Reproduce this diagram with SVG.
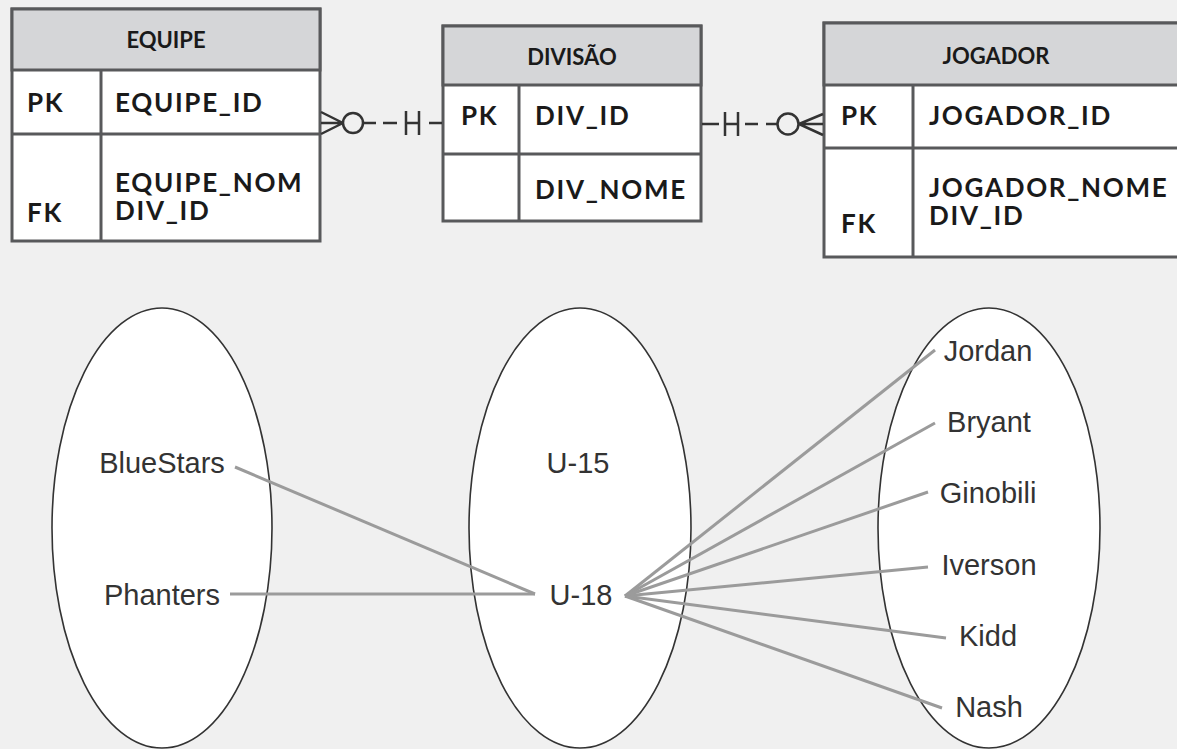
<svg xmlns="http://www.w3.org/2000/svg" width="1177" height="749" viewBox="0 0 1177 749">
<style>
.bg{fill:#f0f0f0}
.box{fill:#ffffff;stroke:#58595b;stroke-width:3}
.hdr{fill:#d5d6d8;stroke:#58595b;stroke-width:3}
.div{stroke:#58595b;stroke-width:3;fill:none}
.th{font-family:Lato,"Open Sans",sans-serif;font-weight:bold;font-size:22px;fill:#1a1a1a;text-anchor:middle}
.tb{font-family:Lato,"Open Sans",sans-serif;font-weight:bold;font-size:26px;fill:#1a1a1a;letter-spacing:1.7px}
.conn{stroke:#333333;stroke-width:2.5;fill:none}
.ell{fill:#ffffff;stroke:#333333;stroke-width:1.6}
.lbl{font-family:"Liberation Sans",Arial,sans-serif;font-size:29px;fill:#333333;text-anchor:middle}
.lnk{stroke:#9b9b9b;stroke-width:3;fill:none}
</style>
<rect class="bg" x="0" y="0" width="1177" height="749"/>

<g id="equipe">
<rect class="box" x="12" y="9" width="308" height="232"/>
<rect class="hdr" x="12" y="9" width="308" height="61"/>
<line class="div" x1="12" y1="134" x2="320" y2="134"/>
<line class="div" x1="101" y1="70" x2="101" y2="241"/>
<text class="th" x="166" y="48">EQUIPE</text>
<text class="tb" x="27" y="112">PK</text>
<text class="tb" x="115" y="112">EQUIPE_ID</text>
<text class="tb" x="115" y="192">EQUIPE_NOM</text>
<text class="tb" x="115" y="220">DIV_ID</text>
<text class="tb" x="27" y="222">FK</text>
</g>

<g id="divisao">
<rect class="box" x="443" y="26" width="258" height="195"/>
<rect class="hdr" x="443" y="26" width="258" height="59"/>
<line class="div" x1="443" y1="154" x2="701" y2="154"/>
<line class="div" x1="519" y1="85" x2="519" y2="221"/>
<text class="th" x="572" y="65">DIVISÃO</text>
<text class="tb" x="461" y="125">PK</text>
<text class="tb" x="535" y="125">DIV_ID</text>
<text class="tb" x="535" y="199">DIV_NOME</text>
</g>

<g id="jogador">
<rect class="box" x="824" y="23" width="380" height="234"/>
<rect class="hdr" x="824" y="23" width="380" height="62"/>
<line class="div" x1="824" y1="148" x2="1204" y2="148"/>
<line class="div" x1="913" y1="85" x2="913" y2="257"/>
<text class="th" x="996" y="64">JOGADOR</text>
<text class="tb" x="841" y="125">PK</text>
<text class="tb" x="929" y="125">JOGADOR_ID</text>
<text class="tb" x="929" y="197">JOGADOR_NOME</text>
<text class="tb" x="929" y="225">DIV_ID</text>
<text class="tb" x="841" y="233">FK</text>
</g>

<g id="er-connectors">
<path class="conn" d="M321,112 L343,123 M321,123 L343,123 M321,134 L343,123"/>
<circle class="conn" cx="353" cy="123" r="10"/>
<path class="conn" d="M363,123 H376 M383,123 H397 M406,111 V135 M419,111 V135 M406,123 H419 M429,123 H442"/>
<path class="conn" d="M702,124 H719 M725,112 V136 M738,112 V136 M725,124 H738 M745,124 H758 M766,124 H777"/>
<circle class="conn" cx="788" cy="124" r="10.5"/>
<path class="conn" d="M823,114 L799,124 M823,124 L799,124 M823,135 L799,124"/>
</g>

<g id="teams">
<ellipse class="ell" cx="162" cy="528" rx="110" ry="220"/>
<text class="lbl" x="162" y="473">BlueStars</text>
<text class="lbl" x="162" y="605">Phanters</text>
</g>

<g id="divisions">
<ellipse class="ell" cx="580" cy="528" rx="111" ry="220"/>
<text class="lbl" x="578" y="473">U-15</text>
<text class="lbl" x="581" y="605">U-18</text>
</g>

<g id="players">
<ellipse class="ell" cx="989" cy="528" rx="111" ry="220"/>
<text class="lbl" x="988" y="361">Jordan</text>
<text class="lbl" x="989" y="432">Bryant</text>
<text class="lbl" x="988" y="503">Ginobili</text>
<text class="lbl" x="989" y="575">Iverson</text>
<text class="lbl" x="988" y="646">Kidd</text>
<text class="lbl" x="989" y="717">Nash</text>
</g>

<g id="mapping-connectors">
<line class="lnk" x1="235" y1="467" x2="535" y2="594"/>
<line class="lnk" x1="230" y1="594" x2="535" y2="594"/>
<line class="lnk" x1="625" y1="596" x2="935" y2="350"/>
<line class="lnk" x1="625" y1="596" x2="935" y2="423"/>
<line class="lnk" x1="625" y1="596" x2="928" y2="492"/>
<line class="lnk" x1="625" y1="596" x2="928" y2="567"/>
<line class="lnk" x1="625" y1="596" x2="946" y2="638"/>
<line class="lnk" x1="625" y1="596" x2="942" y2="708"/>
</g>
</svg>
